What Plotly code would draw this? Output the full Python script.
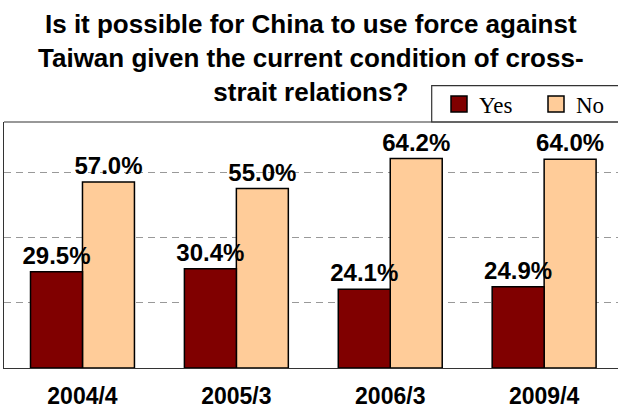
import plotly.graph_objects as go

categories = ["2004/4", "2005/3", "2006/3", "2009/4"]
yes_values = [29.5, 30.4, 24.1, 24.9]
no_values = [57.0, 55.0, 64.2, 64.0]
series_names = ["Yes", "No"]
title_lines = ["Is it possible for China to use force against",
               "Taiwan given the current condition of cross-",
               "strait relations?"]

YES_COLOR = "#800000"
NO_COLOR = "#FFCC99"
SANS = "Liberation Sans, Arial, sans-serif"
SERIF = "Liberation Serif, Times New Roman, serif"

bar_w = 0.3377
fig = go.Figure()
# No drawn first so the Yes labels sit on top of the No bars
fig.add_trace(go.Bar(
    x=categories, y=no_values, name=series_names[1], showlegend=False,
    offset=0, width=bar_w,
    marker=dict(color=NO_COLOR, line=dict(color="black", width=1.5)),
    texttemplate="%{y:.1f}%", textposition="outside", constraintext="none",
    cliponaxis=False,
    textfont=dict(family=SANS, size=24, color="black", weight="bold"),
))
fig.add_trace(go.Bar(
    x=categories, y=yes_values, name=series_names[0], showlegend=False,
    offset=-bar_w, width=bar_w,
    marker=dict(color=YES_COLOR, line=dict(color="black", width=1.5)),
    texttemplate="%{y:.1f}%", textposition="outside", constraintext="none",
    cliponaxis=False,
    textfont=dict(family=SANS, size=24, color="black", weight="bold"),
))
# legend entries
for name, col in zip(series_names, [YES_COLOR, NO_COLOR]):
    fig.add_trace(go.Scatter(
        x=[None], y=[None], mode="markers", name=name,
        marker=dict(symbol="square", size=16, color=col,
                    line=dict(color="black", width=1.5)),
    ))

fig.update_layout(
    width=618, height=410,
    margin=dict(l=4, r=0, t=122, b=42, autoexpand=False),
    paper_bgcolor="white", plot_bgcolor="white",
    barmode="overlay",
    showlegend=True,
    legend=dict(orientation="h", x=(439 - 4) / 614, xanchor="left",
                y=(367.7 - 104.5) / 245.4, yanchor="middle",
                font=dict(family=SERIF, size=23, color="black"),
                bgcolor="rgba(0,0,0,0)", borderwidth=0,
                entrywidth=52, entrywidthmode="pixels",
                traceorder="normal"),
    xaxis=dict(type="category", range=[-0.51, 3.48], showgrid=False,
               showline=True, linecolor="#333333", linewidth=1.2,
               ticks="", ticklabelstandoff=7,
               tickfont=dict(family=SANS, size=23, color="black", weight="bold"),
               fixedrange=True),
    yaxis=dict(range=[0, 75.4], dtick=20, showticklabels=False, ticks="",
               showgrid=True, gridcolor="#999999", gridwidth=1,
               griddash="7px,5px", zeroline=False,
               showline=True, linecolor="#333333", linewidth=1.2,
               fixedrange=True),
    annotations=[dict(
        text="<br>".join(title_lines), xref="paper", yref="paper",
        x=0.5, y=(367.7 - 58.5) / 245.4, xanchor="center", yanchor="middle",
        showarrow=False, align="center",
        font=dict(family=SANS, size=26, color="black", weight="bold"),
    )],
    shapes=[
        dict(type="line", xref="paper", yref="paper", x0=0, x1=1.05, y0=1, y1=1,
             line=dict(color="#333333", width=1.2)),
        dict(type="rect", xref="paper", yref="paper",
             x0=(431.7 - 4) / 614, x1=1.05, y0=1, y1=(367.7 - 86) / 245.4,
             line=dict(color="#333333", width=1.2), fillcolor="rgba(0,0,0,0)"),
    ],
)

fig.write_html("out.html")
